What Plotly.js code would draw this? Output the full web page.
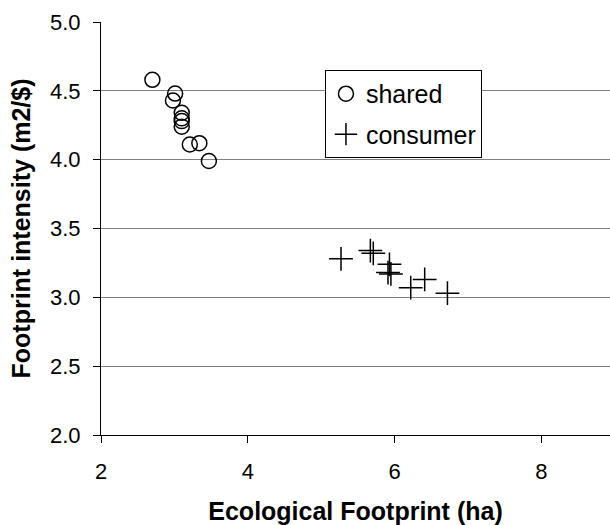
<!DOCTYPE html>
<html>
<head>
<meta charset="utf-8">
<script src="https://cdn.plot.ly/plotly-3.0.1.min.js"></script>
<style>html,body{margin:0;padding:0;background:#fff;}</style>
</head>
<body>
<div id="chart" style="width:610px;height:525px;"></div>
<script>
var sharedX = [2.70, 3.01, 2.98, 3.10, 3.10, 3.10, 3.10, 3.21, 3.34, 3.47];
var sharedY = [4.58, 4.48, 4.43, 4.34, 4.30, 4.28, 4.24, 4.11, 4.12, 3.99];
var consumerX = [5.27, 5.67, 5.71, 5.93, 5.91, 5.95, 6.22, 6.41, 6.72];
var consumerY = [3.28, 3.34, 3.32, 3.24, 3.18, 3.17, 3.07, 3.13, 3.03];
var seriesNames = ['shared', 'consumer'];

var font = 'Arial, "Liberation Sans", sans-serif';

var traces = [
  {
    x: sharedX, y: sharedY, name: seriesNames[0], type: 'scatter', mode: 'markers',
    legendgroup: 'a',
    marker: {symbol: 'circle-open', size: 15, color: '#000', line: {width: 1.5, color: '#000'}},
    cliponaxis: false
  },
  {
    x: consumerX, y: consumerY, name: seriesNames[1], type: 'scatter', mode: 'markers',
    legendgroup: 'b',
    marker: {symbol: 'cross-thin-open', size: 17, color: '#000', line: {width: 1.5, color: '#000'}},
    cliponaxis: false
  }
];

var layout = {
  width: 610, height: 525,
  margin: {l: 101, r: 0, t: 22, b: 90},
  paper_bgcolor: '#fff', plot_bgcolor: '#fff',
  font: {family: font, color: '#000', size: 22},
  showlegend: true,
  legend: {
    x: 0.440, y: 0.884, xanchor: 'left', yanchor: 'top',
    bgcolor: '#fff', bordercolor: '#000', borderwidth: 1,
    font: {family: font, size: 25, color: '#000'},
    traceorder: 'grouped', tracegroupgap: 5
  },
  xaxis: {
    range: [2, 8.935], tickvals: [2, 4, 6, 8], ticktext: ['2', '4', '6', '8'],
    showgrid: false, zeroline: false,
    showline: true, linecolor: '#000', linewidth: 1,
    ticks: 'outside', ticklen: 7, tickcolor: '#000', tickwidth: 1,
    ticklabelstandoff: 10,
    tickfont: {family: font, size: 22, color: '#000'},
    title: {text: '<b>Ecological Footprint (ha)</b>', font: {family: font, size: 25, color: '#000'}, standoff: 20}
  },
  yaxis: {
    range: [2, 5], tickvals: [2, 2.5, 3, 3.5, 4, 4.5, 5],
    ticktext: ['2.0', '2.5', '3.0', '3.5', '4.0', '4.5', '5.0'],
    showgrid: true, gridcolor: '#808080', gridwidth: 1, zeroline: false,
    showline: true, linecolor: '#000', linewidth: 1,
    ticks: 'outside', ticklen: 7, tickcolor: '#000', tickwidth: 1,
    ticklabelstandoff: 8,
    tickfont: {family: font, size: 22, color: '#000'},
    title: {text: '<b>Footprint intensity (m2/$)</b>', font: {family: font, size: 25, color: '#000'}, standoff: 12}
  }
};

Plotly.newPlot('chart', traces, layout, {displayModeBar: false, staticPlot: true});
</script>
</body>
</html>
